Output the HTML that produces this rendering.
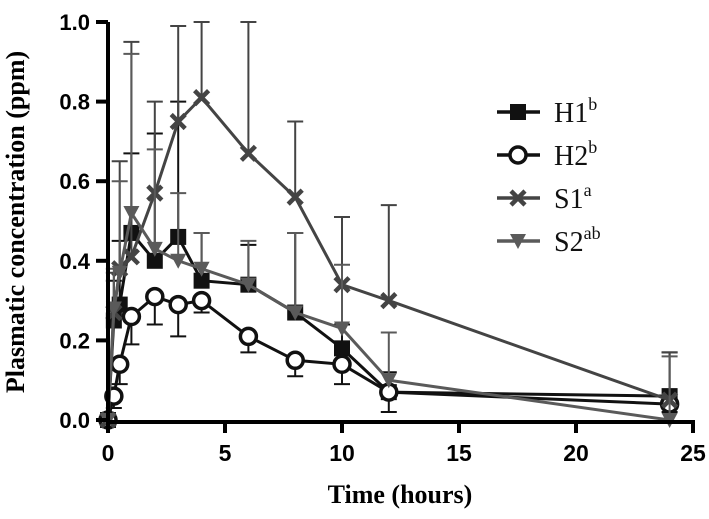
<!DOCTYPE html>
<html><head><meta charset="utf-8"><style>
body{margin:0;background:#fff}
svg text{font-family:"Liberation Sans",sans-serif;font-weight:bold}
.serif{font-family:"Liberation Serif",serif}
</style></head><body>
<svg id="chart" width="709" height="514" viewBox="0 0 709 514" xmlns="http://www.w3.org/2000/svg"></svg>
<script>
const times=[0,0.25,0.5,1,2,3,4,6,8,10,12,24];
const h1=[0,0.25,0.29,0.47,0.40,0.46,0.35,0.34,0.27,0.18,0.07,0.06];
const h1Err=[0,0.1,0.16,0.2,0.32,0.34,0.12,0.1,0.2,0.06,0.05,0.11];
const h2=[0,0.06,0.14,0.26,0.31,0.29,0.30,0.21,0.15,0.14,0.07,0.04];
const h2Err=[0,0.03,0.05,0.07,0.07,0.08,0.03,0.04,0.04,0.05,0.05,0.02];
const s1=[0,0.27,0.38,0.41,0.57,0.75,0.81,0.67,0.56,0.34,0.30,0.05];
const s1Err=[0,0.1,0.27,0.54,0.23,0.24,0.19,0.33,0.19,0.17,0.24,0.12];
const s2=[0,0.28,0.37,0.52,0.43,0.40,0.38,0.34,0.27,0.23,0.10,0.0];
const s2Err=[0,0.1,0.23,0.40,0.25,0.17,0.09,0.11,0.2,0.16,0.12,0.16];
const xTicks=[0,5,10,15,20,25];
const yTicks=[0,0.2,0.4,0.6,0.8,1.0];
const NS="http://www.w3.org/2000/svg",svg=document.getElementById('chart');
const X=v=>108+v*(585/25), Y=v=>420-v*398;
function el(t,a,p){const e=document.createElementNS(NS,t);for(const k in a)e.setAttribute(k,a[k]);(p||svg).appendChild(e);return e;}
const series=[
 {name:'H1',sup:'b',vals:h1,err:h1Err,dir:1,color:'#111',m:'square'},
 {name:'H2',sup:'b',vals:h2,err:h2Err,dir:-1,color:'#111',m:'circle'},
 {name:'S1',sup:'a',vals:s1,err:s1Err,dir:1,color:'#444',m:'cross'},
 {name:'S2',sup:'ab',vals:s2,err:s2Err,dir:1,color:'#5a5a5a',m:'tri'}];
function marker(g,m,x,y,c){
 if(m==='square')el('rect',{x:x-8,y:y-8,width:16,height:16,fill:c},g);
 else if(m==='circle')el('circle',{cx:x,cy:y,r:8,fill:'#fff',stroke:c,'stroke-width':3.5},g);
 else if(m==='cross'){el('path',{d:`M${x-7} ${y-7}L${x+7} ${y+7}M${x+7} ${y-7}L${x-7} ${y+7}`,stroke:c,'stroke-width':4.5},g);}
 else el('path',{d:`M${x-8} ${y-7}L${x+8} ${y-7}L${x} ${y+8}Z`,fill:c},g);
}
series.forEach((s,si)=>{
 const g=el('g',{});
 
 
 times.forEach((t,i)=>{ if(!s.err[i])return;
  const x=X(t),y0=Y(s.vals[i]),y1=Y(Math.max(0,s.vals[i]+s.dir*s.err[i]));
  const e=el('path',{d:`M${x} ${y0}L${x} ${y1}M${x-8} ${y1}L${x+8} ${y1}`,stroke:s.color,'stroke-width':2,fill:'none'},g);
  
  
 });
 el('polyline',{points:times.map((t,i)=>X(t)+','+Y(s.vals[i])).join(' '),fill:'none',stroke:s.color,'stroke-width':3},g);
 times.forEach((t,i)=>marker(g,s.m,X(t),Y(s.vals[i]),s.color));
 const ly=112+si*43;
 const lg=el('g',{});
 
 
 el('line',{x1:497,y1:ly,x2:540,y2:ly,stroke:s.color,'stroke-width':3.5},lg);
 marker(lg,s.m,518,ly,s.color);
 const tx=el('text',{x:554,y:ly+10,'font-size':28,'class':'serif',fill:'#111'},lg);
 tx.style.fontWeight='normal';
 tx.textContent=s.name;
 const sp=el('tspan',{dy:-12,'font-size':18},tx);sp.textContent=s.sup;
});
const ax=el('g',{});


el('path',{d:`M108 22L108 422L695 422`,fill:'none',stroke:'#000','stroke-width':4},ax);
xTicks.forEach(v=>{el('line',{x1:X(v),y1:420,x2:X(v),y2:433,stroke:'#000','stroke-width':4},ax);
 const t=el('text',{x:X(v),y:461,'font-size':23,'text-anchor':'middle'},ax);t.textContent=v;});
yTicks.forEach(v=>{el('line',{x1:96,y1:Y(v),x2:108,y2:Y(v),stroke:'#000','stroke-width':4},ax);
 const t=el('text',{x:90,y:Y(v)+8,'font-size':22,'text-anchor':'end'},ax);t.textContent=v.toFixed(1);});
const xt=el('text',{x:400,y:503,'font-size':26,'text-anchor':'middle','class':'serif'});
xt.textContent='Time (hours)';
const yt=el('text',{x:0,y:0,'font-size':26,'text-anchor':'middle','class':'serif',transform:'translate(24,222) rotate(-90)'});
yt.textContent='Plasmatic concentration (ppm)';
</script>
</body></html>
